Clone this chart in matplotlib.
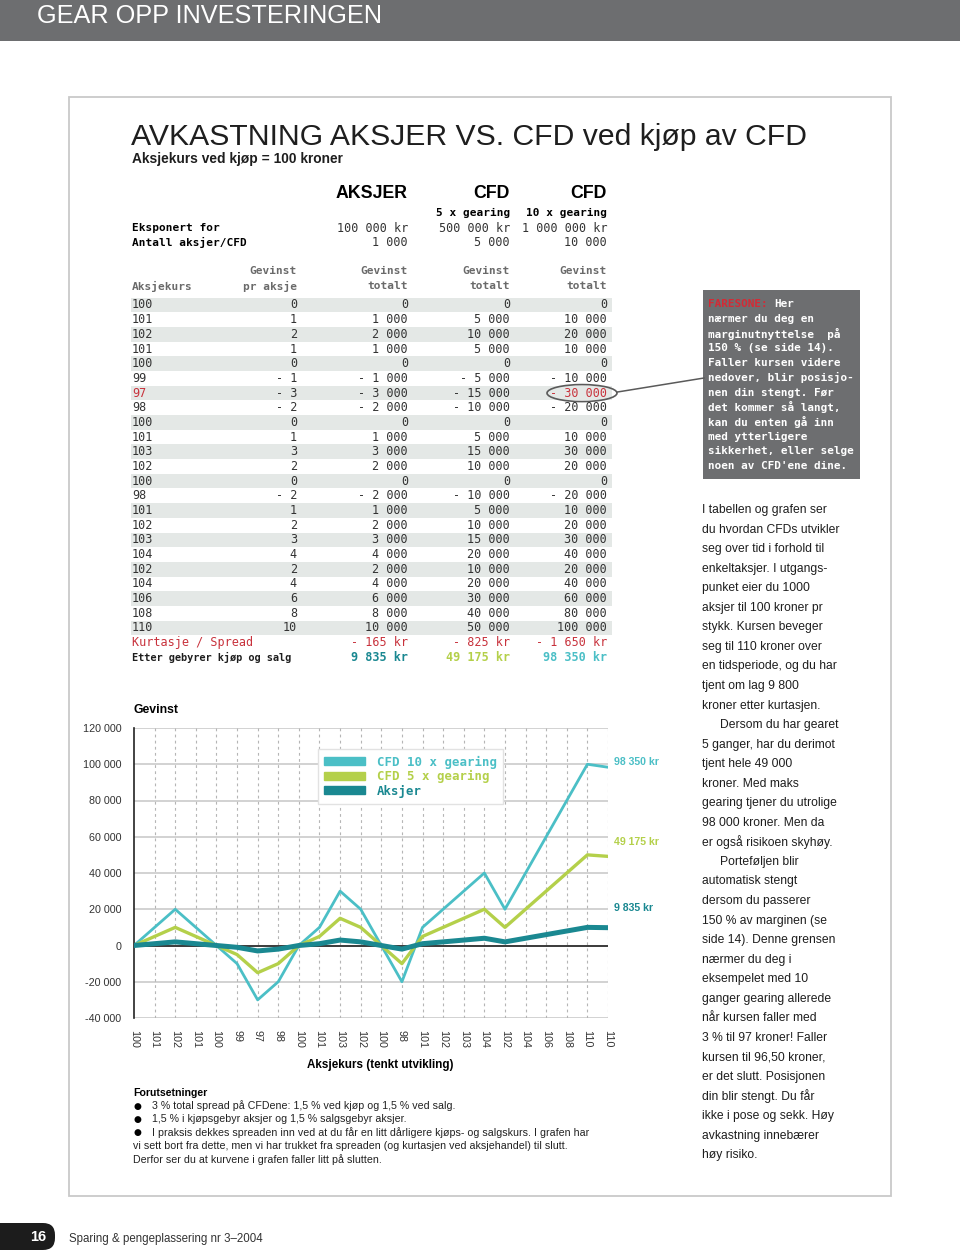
import matplotlib
matplotlib.use("Agg")
import matplotlib.pyplot as plt
from matplotlib.patches import Rectangle, Ellipse, Patch, FancyBboxPatch
from matplotlib import font_manager

# --- data -------------------------------------------------------------
kurs = [100, 101, 102, 101, 100, 99, 97, 98, 100, 101, 103, 102, 100, 98,
        101, 102, 103, 104, 102, 104, 106, 108, 110]
pr_aksje = [0, 1, 2, 1, 0, -1, -3, -2, 0, 1, 3, 2, 0, -2, 1, 2, 3, 4, 2, 4, 6, 8, 10]
aksjer_tot = [0, 1000, 2000, 1000, 0, -1000, -3000, -2000, 0, 1000, 3000, 2000, 0,
              -2000, 1000, 2000, 3000, 4000, 2000, 4000, 6000, 8000, 10000]
cfd5_tot = [0, 5000, 10000, 5000, 0, -5000, -15000, -10000, 0, 5000, 15000, 10000, 0,
            -10000, 5000, 10000, 15000, 20000, 10000, 20000, 30000, 40000, 50000]
cfd10_tot = [0, 10000, 20000, 10000, 0, -10000, -30000, -20000, 0, 10000, 30000, 20000, 0,
             -20000, 10000, 20000, 30000, 40000, 20000, 40000, 60000, 80000, 100000]
eksponert = [100000, 500000, 1000000]
antall = [1000, 5000, 10000]
kurtasje = [-165, -825, -1650]
netto = [9835, 49175, 98350]
chart_kurs = kurs + [110]
y_ticks = [-40000, -20000, 0, 20000, 40000, 60000, 80000, 100000, 120000]

# colours
C10 = '#4bbfc6'
C5 = '#b4d04a'
CAKS = '#1a8891'
RED = '#c8323c'
BOXGRAY = '#6d6e70'
NUM = '#333333'

names = {f.name for f in font_manager.fontManager.ttflist}
if 'Liberation Sans Narrow' in names:
    NARROW, NS = 'Liberation Sans Narrow', 1.0
else:
    NARROW, NS = 'Liberation Sans', 0.82
SANS = 'Liberation Sans'
MONO = 'DejaVu Sans Mono'
FS = 8.5  # table number size


def fmt(v, suffix=''):
    s = f"{abs(v):,}".replace(",", " ")
    return ("- " if v < 0 else "") + s + suffix


fig = plt.figure(figsize=(9.6, 12.57), dpi=100)
page = fig.add_axes([0, 0, 1, 1])
page.set_xlim(0, 960)
page.set_ylim(1257, 0)
page.axis('off')

# header bar
page.add_patch(Rectangle((0, 0), 960, 41, color=BOXGRAY, lw=0))
page.text(37, 23, "GEAR OPP INVESTERINGEN", color='white', fontsize=22.2 * NS,
          family=NARROW, va='baseline')

# frame
page.add_patch(Rectangle((69, 97), 822, 1099, fill=False, ec='#c9c9c9', lw=1.3))

# title
page.text(131, 145, "AVKASTNING AKSJER VS. CFD ved kjøp av CFD", fontsize=26.5 * NS,
          family=NARROW, color='#1e1e1e', va='baseline')
page.text(132, 159, "Aksjekurs ved kjøp = 100 kroner", fontsize=9.9, family=SANS,
          weight='bold', va='center', color='#1e1e1e')

# table header
cols = [297, 408, 510, 607]
for x, s in zip(cols[1:], ["AKSJER", "CFD", "CFD"]):
    page.text(x, 194, s, fontsize=12.8, family=SANS, weight='bold', ha='right', va='center')
page.text(510, 213, "5 x gearing", fontsize=8.0, family=MONO, weight='bold', ha='right', va='center')
page.text(607, 213, "10 x gearing", fontsize=8.0, family=MONO, weight='bold', ha='right', va='center')
page.text(132, 228, "Eksponert for", fontsize=8.0, family=MONO, weight='bold', va='center')
page.text(132, 242, "Antall aksjer/CFD", fontsize=8.0, family=MONO, weight='bold', va='center')
for x, e, a in zip(cols[1:], eksponert, antall):
    page.text(x, 228, fmt(e, " kr"), fontsize=FS, family=MONO, color=NUM, ha='right', va='center')
    page.text(x, 242, fmt(a), fontsize=FS, family=MONO, color=NUM, ha='right', va='center')
for x in cols:
    page.text(x, 271, "Gevinst", fontsize=8.0, family=MONO, weight='bold', color='#6a6a6a',
              ha='right', va='center')
page.text(132, 286, "Aksjekurs", fontsize=8.0, family=MONO, weight='bold', color='#6a6a6a', va='center')
page.text(297, 286, "pr aksje", fontsize=8.0, family=MONO, weight='bold', color='#6a6a6a',
          ha='right', va='center')
for x in cols[1:]:
    page.text(x, 286, "totalt", fontsize=8.0, family=MONO, weight='bold', color='#6a6a6a',
              ha='right', va='center')

# table rows
row_h = 14.68
fare = kurs.index(97)
for i in range(len(kurs)):
    y = 305 + i * row_h
    if i % 2 == 0:
        page.add_patch(Rectangle((131, y - row_h / 2), 481, row_h, color='#e4e8e6', lw=0))
    c0 = RED if i == fare else NUM
    page.text(132, y, str(kurs[i]), fontsize=FS, family=MONO, color=c0, va='center')
    vals = [fmt(pr_aksje[i]), fmt(aksjer_tot[i]), fmt(cfd5_tot[i]), fmt(cfd10_tot[i])]
    for j, (x, s) in enumerate(zip(cols, vals)):
        c = RED if (i == fare and j == 3) else NUM
        page.text(x, y, s, fontsize=FS, family=MONO, color=c, ha='right', va='center')

y_k = 305 + len(kurs) * row_h
page.text(132, y_k, "Kurtasje / Spread", fontsize=FS, family=MONO, color=RED, va='center')
for x, v in zip(cols[1:], kurtasje):
    page.text(x, y_k, fmt(v, " kr"), fontsize=FS, family=MONO, color=RED, ha='right', va='center')
y_e = y_k + row_h
page.text(132, y_e, "Etter gebyrer kjøp og salg", fontsize=7.4, family=MONO, weight='bold',
          color='#1e1e1e', va='center')
for x, v, c in zip(cols[1:], netto, [CAKS, C5, C10]):
    page.text(x, y_e, fmt(v, " kr"), fontsize=FS, family=MONO, weight='bold', color=c,
              ha='right', va='center')

# danger zone marker
y_f = 305 + fare * row_h
page.add_patch(Ellipse((582, y_f), 70, 17, fill=False, ec='#5a5a5a', lw=1.2))
page.plot([617, 704], [y_f - 1, 378], color='#5a5a5a', lw=1.1)

# FARESONE box
page.add_patch(Rectangle((703, 290), 157, 189, color=BOXGRAY, lw=0))
fare_lines = ["nærmer du deg en", "marginutnyttelse  på", "150 % (se side 14).",
              "Faller kursen videre", "nedover, blir posisjo-", "nen din stengt. Før",
              "det kommer så langt,", "kan du enten gå inn", "med ytterligere",
              "sikkerhet, eller selge", "noen av CFD'ene dine."]
page.text(708, 304, "FARESONE:", fontsize=7.9, family=MONO, weight='bold', color='#d42a35', va='center')
page.text(708 + 10 * 6.6, 304, "Her", fontsize=7.9, family=MONO, weight='bold', color='white', va='center')
for k, s in enumerate(fare_lines):
    page.text(708, 319 + k * 14.7, s, fontsize=7.9, family=MONO, weight='bold', color='white',
              va='center')

# body text
body = ["I tabellen og grafen ser", "du hvordan CFDs utvikler", "seg over tid i forhold til",
        "enkeltaksjer. I utgangs-", "punket eier du 1000", "aksjer til 100 kroner pr",
        "stykk. Kursen beveger", "seg til 110 kroner over", "en tidsperiode, og du har",
        "tjent om lag 9 800", "kroner etter kurtasjen.", "    Dersom du har gearet",
        "5 ganger, har du derimot", "tjent hele 49 000", "kroner. Med maks",
        "gearing tjener du utrolige", "98 000 kroner. Men da", "er også risikoen skyhøy.",
        "    Porteføljen blir", "automatisk stengt", "dersom du passerer",
        "150 % av marginen (se", "side 14). Denne grensen", "nærmer du deg i",
        "eksempelet med 10", "ganger gearing allerede", "når kursen faller med",
        "3 % til 97 kroner! Faller", "kursen til 96,50 kroner,", "er det slutt. Posisjonen",
        "din blir stengt. Du får", "ikke i pose og sekk. Høy", "avkastning innebærer",
        "høy risiko."]
for k, s in enumerate(body):
    x = 702
    if s.startswith("    "):
        s, x = s.strip(), 720
    page.text(x, 510 + k * 19.55, s, fontsize=10.7 * NS, family=NARROW, color='#1e1e1e',
              va='center')

# footnotes
page.text(133, 1093, "Forutsetninger", fontsize=7.6, family=SANS, weight='bold', va='center')
notes = [("3 % total spread på CFDene: 1,5 % ved kjøp og 1,5 % ved salg.", True),
         ("1,5 % i kjøpsgebyr aksjer og 1,5 % salgsgebyr aksjer.", True),
         ("I praksis dekkes spreaden inn ved at du får en litt dårligere kjøps- og salgskurs. I grafen har", True),
         ("vi sett bort fra dette, men vi har trukket fra spreaden (og kurtasjen ved aksjehandel) til slutt.", False),
         ("Derfor ser du at kurvene i grafen faller litt på slutten.", False)]
for k, (s, bullet) in enumerate(notes):
    y = 1106 + k * 13.3
    if bullet:
        page.text(133, y, "●", fontsize=6.5, family='DejaVu Sans', va='center')
        page.text(152, y, s, fontsize=7.7, family=SANS, color='#222222', va='center')
    else:
        page.text(133, y, s, fontsize=7.7, family=SANS, color='#222222', va='center')

# footer
page.add_patch(FancyBboxPatch((-30, 1223), 85, 27, boxstyle="round,pad=0,rounding_size=12",
                              color='#1c1c1c', lw=0))
page.text(46, 1237, "16", fontsize=10.5, family=SANS, weight='bold', color='white',
          ha='right', va='center')
page.text(69, 1239, "Sparing & pengeplassering nr 3–2004", fontsize=8.3, family=SANS,
          color='#333333', va='center')

# --- chart ------------------------------------------------------------
ax = fig.add_axes([134 / 960, 1 - 1018 / 1257, (608 - 134) / 960, (1018 - 728) / 1257])
ax.set_facecolor('none')
x = list(range(len(chart_kurs)))
ax.plot(x, cfd10_tot + [netto[2]], color=C10, lw=2.0, zorder=3)
ax.plot(x, cfd5_tot + [netto[1]], color=C5, lw=2.4, zorder=3)
ax.plot(x, aksjer_tot + [netto[0]], color=CAKS, lw=3.6, zorder=4)
ax.set_xlim(0, len(chart_kurs) - 1)
ax.set_ylim(-40000, 120000)
for yt in y_ticks:
    ax.axhline(yt, color='#c6c6c6', lw=1.1, zorder=1)
for xt in x[1:]:
    ax.axvline(xt, color='#b5b5b5', lw=0.8, ls=(0, (2.5, 3)), zorder=1)
ax.axhline(0, color='#222222', lw=1.2, zorder=2)
for side in ['top', 'right', 'bottom']:
    ax.spines[side].set_visible(False)
ax.spines['left'].set_color('#222222')
ax.spines['left'].set_linewidth(1.2)
ax.set_yticks(y_ticks)
ax.set_yticklabels([("-" if v < 0 else "") + f"{abs(v):,}".replace(",", " ") for v in y_ticks],
                   fontsize=9.4 * NS, family=NARROW, color='#333333')
ax.set_xticks(x)
ax.set_xticklabels([str(k) for k in chart_kurs], rotation=-90, fontsize=9.4 * NS,
                   family=NARROW, color='#333333')
ax.tick_params(length=0, pad=9)
ax.text(0, 1.04, "Gevinst", transform=ax.transAxes, fontsize=8.8, family=SANS,
        weight='bold', va='bottom')

for v, c, off in zip(netto, [CAKS, C5, C10], [14, 10, 4]):
    ax.annotate(fmt(v, " kr"), xy=(x[-1], v), xytext=(4, off), textcoords='offset points',
                fontsize=9.2 * NS, family=NARROW, weight='bold', color=c, va='center',
                annotation_clip=False)

handles = [Patch(color=C10), Patch(color=C5), Patch(color=CAKS)]
leg = ax.legend(handles, ["CFD 10 x gearing", "CFD 5 x gearing", "Aksjer"],
                loc='upper left', bbox_to_anchor=(0.375, 0.948), frameon=True, fancybox=False,
                edgecolor='#e2e2e2', framealpha=1, handlelength=3.3, handleheight=0.6,
                handletextpad=1.0, labelspacing=0.12, borderpad=0.5,
                prop={'family': MONO, 'size': 8.9, 'weight': 'bold'},
                labelcolor=[C10, C5, CAKS])
leg.get_frame().set_linewidth(1.0)
leg.set_zorder(5)

page.text(380, 1065, "Aksjekurs (tenkt utvikling)", fontsize=8.4, family=SANS,
          weight='bold', ha='center', va='center')

fig.savefig("out.png", dpi=100)
